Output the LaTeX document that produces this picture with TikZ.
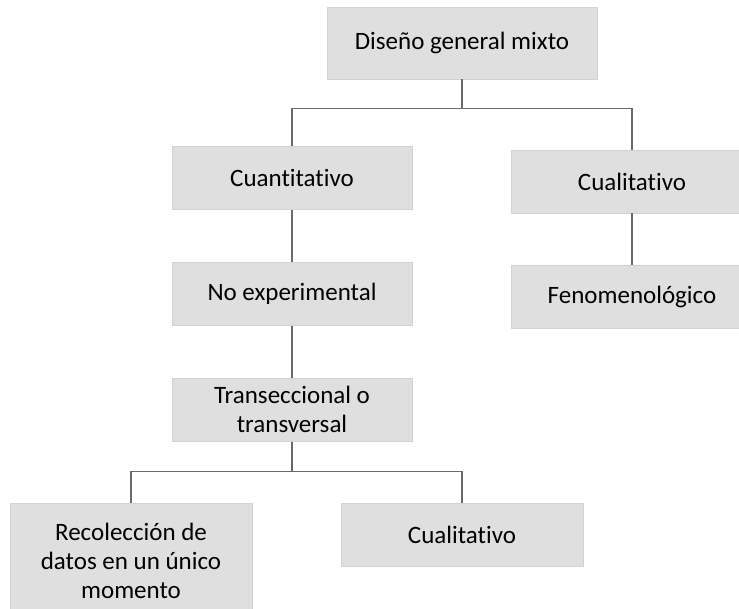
\documentclass[tikz,border=0pt]{standalone}
\usepackage{fontspec}
\setmainfont{Carlito}[Ligatures={NoCommon}]
\usetikzlibrary{positioning}
\definecolor{cajagris}{HTML}{DFDFDF}
\definecolor{bordegris}{HTML}{D2D2D2}
\definecolor{lineagris}{HTML}{6A6A6A}

\begin{document}
\begin{tikzpicture}[x=0.5pt,y=-0.5pt,semithick,node distance=26pt]
                \tikzstyle{caja}=[rectangle,fill=cajagris,draw=bordegris,thin,text=black,minimum width=121pt,minimum height=31.5pt,align=center,inner sep=2pt,font=\fontsize{12.5}{14.5}\selectfont]
                \tikzstyle{linea}=[draw=lineagris,line width=0.75pt]
                \useasboundingbox (0,0) rectangle (739,609);

                \node[caja, minimum width=135pt, minimum height=36pt] (mixto) at (462,43)    {Diseño general mixto};
                \node[caja, minimum width=120pt]  (cuant) at (292,178)                        {Cuantitativo};
                \node[caja]                       (cual)  at (632,181.5)                      {Cualitativo};
                \node[caja, minimum width=120pt]  (noexp) [below=of cuant]                    {No experimental};
                \node[caja, minimum width=120pt]  (trans) [below=of noexp]                    {Transeccional o\\transversal};
                \node[caja]                       (fenom) [below=of cual]                     {Fenomenológico};
                \node[caja, minimum height=58pt]  (recol) at (131,561)                        {Recolección de\\datos en un único\\momento};
                \node[caja]                       (cual2) at (462,534.5)                      {Cualitativo};

                \draw[linea] (mixto.south) -- ++(0,29) -| (cuant.north);
                \draw[linea] (mixto.south) -- ++(0,29) -| (cual.north);
                \draw[linea] (cuant) -- (noexp);
                \draw[linea] (noexp) -- (trans);
                \draw[linea] (cual) -- (fenom);
                \draw[linea] (trans.south) -- ++(0,30) -| (recol.north);
                \draw[linea] (trans.south) -- ++(0,30) -| (cual2.north);
            \end{tikzpicture}
\end{document}
